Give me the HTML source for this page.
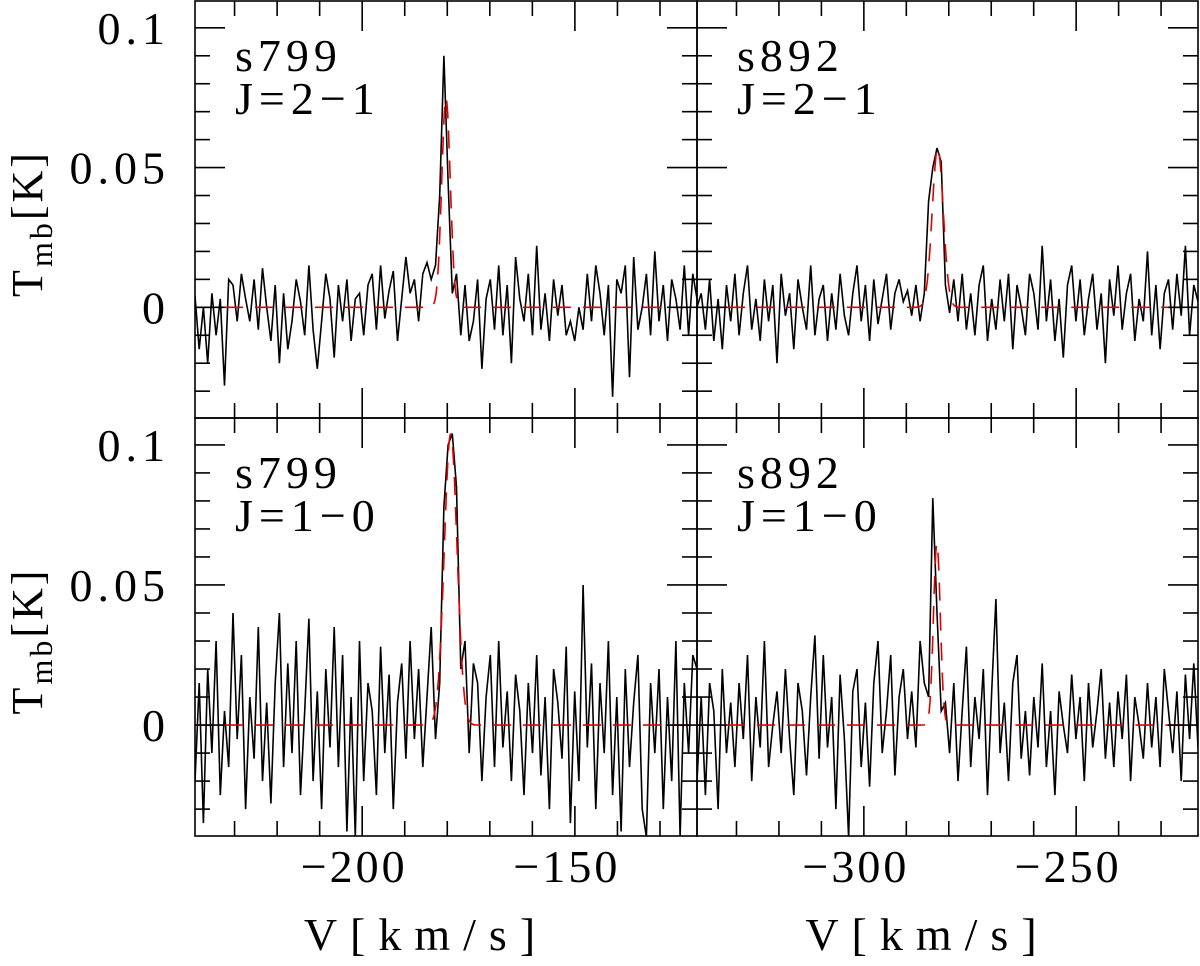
<!DOCTYPE html>
<html><head><meta charset="utf-8"><style>
html,body{margin:0;padding:0;background:#fff;}
svg text{font-family:"Liberation Serif",serif;fill:#000;}
</style></head><body>
<svg id="chart" width="1200" height="961" viewBox="0 0 1200 961" xmlns="http://www.w3.org/2000/svg"></svg>
<script>
// ---- data (values in mK) ----
const tl_values=[4,-15,0,-20,5,-10,3,-28,10,8,-5,12,3,-5,10,-8,14,0,-12,8,-20,5,-15,-5,10,2,-10,15,-8,-22,-5,12,3,-18,8,-5,10,-12,3,5,-10,8,12,-8,15,-4,6,13,-12,3,18,5,10,-5,12,16,10,15,40,90,45,5,12,-10,8,-12,-5,10,-22,3,10,-8,15,-10,8,-20,18,3,-5,12,-10,22,-8,5,-12,10,-3,8,-10,-5,-12,0,-8,12,-5,15,5,-10,8,-32,10,5,15,-25,18,-8,0,12,-10,20,-5,8,-12,10,3,-8,15,-10,12,3];
const tr_values=[0,5,-8,10,-12,3,-15,8,-5,12,-10,5,15,-8,3,-12,10,-5,8,-20,12,-3,5,-15,10,0,-8,15,-10,3,8,-12,5,-8,12,-3,-10,5,15,-5,8,-12,10,-6,3,12,-8,5,10,2,6,-3,8,-5,5,38,50,57,52,8,-2,10,-5,12,-8,5,-10,8,15,-12,3,-8,10,-5,12,-15,8,0,-10,12,5,-8,22,-5,10,-12,3,-18,8,15,-5,10,-10,3,12,-8,5,-20,10,-3,15,-8,5,12,-12,3,-5,20,-10,8,-15,5,10,-8,12,-3,22,-10,8,2];
const bl_values=[-20,15,-35,20,-10,30,-25,5,-15,40,-5,25,-30,10,-12,35,-20,8,-28,15,40,-15,22,-10,30,-25,5,38,-20,12,-30,20,-8,35,-15,25,-38,10,-40,30,-20,15,5,-25,28,-10,18,-30,8,22,-12,30,-5,20,-15,10,35,-5,15,78,100,104,85,20,30,-10,22,15,-20,10,25,-15,30,-8,12,-20,18,5,-25,15,-10,25,-18,10,-30,20,8,-12,28,-35,12,-20,50,-8,22,-30,15,-10,30,-25,10,-38,20,-15,8,25,-30,-40,15,-10,20,-30,10,-20,30,-40,15,-10,25,20];
const br_values=[-20,10,-25,15,5,-30,20,-10,8,-15,15,-5,25,-20,10,-8,30,-15,0,12,-10,20,-5,-25,15,5,-18,10,32,-12,25,-8,10,-30,18,-5,-40,12,20,-15,8,-22,15,30,-10,5,25,-18,10,20,-5,12,-8,30,15,10,81,40,5,8,-10,15,-20,5,28,-15,10,-5,20,-25,12,45,-10,8,-20,15,25,-12,5,-18,10,-8,22,-15,5,-25,12,0,-10,18,-5,10,-20,15,-8,5,20,-12,8,-15,12,-5,18,-20,10,0,-12,15,-8,10,-15,20,5,-10,12,-20,18,-5,22,-8];
// gaussian fit params: [amp (mK), center (km/s), sigma (km/s)]
const tl_fit=[75,-180.3,1.0];
const tr_fit=[57,-282.6,1.3];
const bl_fit=[104,-179.2,1.5];
const br_fit=[65,-282.8,0.8];
const leftTicks=[-200,-150];
const rightTicks=[-300,-250];
const yTicks=[0,0.05,0.1];
const yTickLabels=["0","0.05","0.1"];

const NS="http://www.w3.org/2000/svg";
const svg=document.getElementById('chart');
function el(t,a,p){const e=document.createElementNS(NS,t);for(const k in a)e.setAttribute(k,a[k]);(p||svg).appendChild(e);return e;}

const panels=[
 {name:'s799-j21',vals:tl_values,fit:tl_fit,x0:195,x1:697,y0:1,y1:418,vmin:-239.3,vmax:-121.3,ticks:leftTicks,src:'s799',line:'J=2\u22121',yl:true,xl:false},
 {name:'s892-j21',vals:tr_values,fit:tr_fit,x0:697,x1:1198,y0:1,y1:418,vmin:-339.3,vmax:-221.3,ticks:rightTicks,src:'s892',line:'J=2\u22121',yl:false,xl:false},
 {name:'s799-j10',vals:bl_values,fit:bl_fit,x0:195,x1:697,y0:418,y1:836,vmin:-239.3,vmax:-121.3,ticks:leftTicks,src:'s799',line:'J=1\u22120',yl:true,xl:true},
 {name:'s892-j10',vals:br_values,fit:br_fit,x0:697,x1:1198,y0:418,y1:836,vmin:-339.3,vmax:-221.3,ticks:rightTicks,src:'s892',line:'J=1\u22120',yl:false,xl:true}
];
const YMAX=0.1096,YMIN=-0.0396;

panels.forEach(p=>{
 const g=el('g',{});
 
 
 const sx=v=>p.x0+(v-p.vmin)/(p.vmax-p.vmin)*(p.x1-p.x0);
 const sy=t=>p.y0+(YMAX-t)/(YMAX-YMIN)*(p.y1-p.y0);
 const cid='clip-'+p.name;
 const cp=el('clipPath',{id:cid},g);
 el('rect',{x:p.x0,y:p.y0,width:p.x1-p.x0,height:p.y1-p.y0},cp);
 const n=p.vals.length, step=(p.vmax-p.vmin)/(n-1);
 let d='';
 p.vals.forEach((v,i)=>{d+=(i?'L':'M')+sx(p.vmin+i*step).toFixed(1)+' '+sy(v/1000).toFixed(1);});
 const sp=el('path',{d:d,fill:'none',stroke:'#000','stroke-width':1.6,'clip-path':'url(#'+cid+')'},g);
 
 
 let fd='';
 for(let k=0;k<=600;k++){const v=p.vmin+k*(p.vmax-p.vmin)/600;const t=p.fit[0]/1000*Math.exp(-0.5*Math.pow((v-p.fit[1])/p.fit[2],2));fd+=(k?'L':'M')+sx(v).toFixed(1)+' '+sy(t).toFixed(1);}
 const fp=el('path',{d:fd,fill:'none',stroke:'#e00000','stroke-width':1.6,'stroke-dasharray':'18 12','clip-path':'url(#'+cid+')'},g);
 
 
 const fr=el('rect',{x:p.x0,y:p.y0,width:p.x1-p.x0,height:p.y1-p.y0,fill:'none',stroke:'#000','stroke-width':1.6},g);
 
 
 for(let v=Math.ceil(p.vmin/10)*10;v<=p.vmax;v+=10){
  const major=(v%50===0), L=major?30:15, x=sx(v);
  el('line',{x1:x,x2:x,y1:p.y1,y2:p.y1-L,stroke:'#000','stroke-width':1.6},g);
  el('line',{x1:x,x2:x,y1:p.y0,y2:p.y0+L,stroke:'#000','stroke-width':1.6},g);
 }
 for(let k=-3;k<=10;k++){
  const t=k/100, major=(k%5===0), L=major?30:15, y=sy(t);
  if(y<p.y0+1||y>p.y1-1)continue;
  el('line',{x1:p.x0,x2:p.x0+L,y1:y,y2:y,stroke:'#000','stroke-width':1.6},g);
  el('line',{x1:p.x1,x2:p.x1-L,y1:y,y2:y,stroke:'#000','stroke-width':1.6},g);
 }
 if(p.yl){
  yTicks.forEach((t,i)=>{
   const tx=el('text',{x:170,y:sy(t)+16,'font-size':46,'text-anchor':'end','letter-spacing':'5'},g);
   tx.textContent=yTickLabels[i];
   
   
  });
  const yt=el('text',{transform:'translate(42,'+((p.y0+p.y1)/2+14)+') rotate(-90)','font-size':44,'text-anchor':'middle','letter-spacing':'3'},g);
  yt.innerHTML='T<tspan font-size="32" dy="10">mb</tspan><tspan dy="-10">[K]</tspan>';
  
  
 }
 if(p.xl){
  p.ticks.forEach(v=>{
   const tx=el('text',{x:sx(v)-8,y:882,'font-size':46,'text-anchor':'middle','letter-spacing':'3'},g);
   tx.textContent='\u2212'+Math.abs(v);
   
   
  });
  const xt=el('text',{x:(p.x0+p.x1)/2-20,y:950,'font-size':46,'text-anchor':'middle','letter-spacing':'13'},g);
  xt.textContent='V[km/s]';
  
  
 }
 const a=el('text',{x:p.x0+40,y:p.y0+70,'font-size':46,'letter-spacing':'5'},g);
 a.textContent=p.src;
 
 
 const b=el('text',{x:p.x0+40,y:p.y0+113,'font-size':46,'letter-spacing':'6'},g);
 b.textContent=p.line;
 
 
});
</script>
</body></html>
